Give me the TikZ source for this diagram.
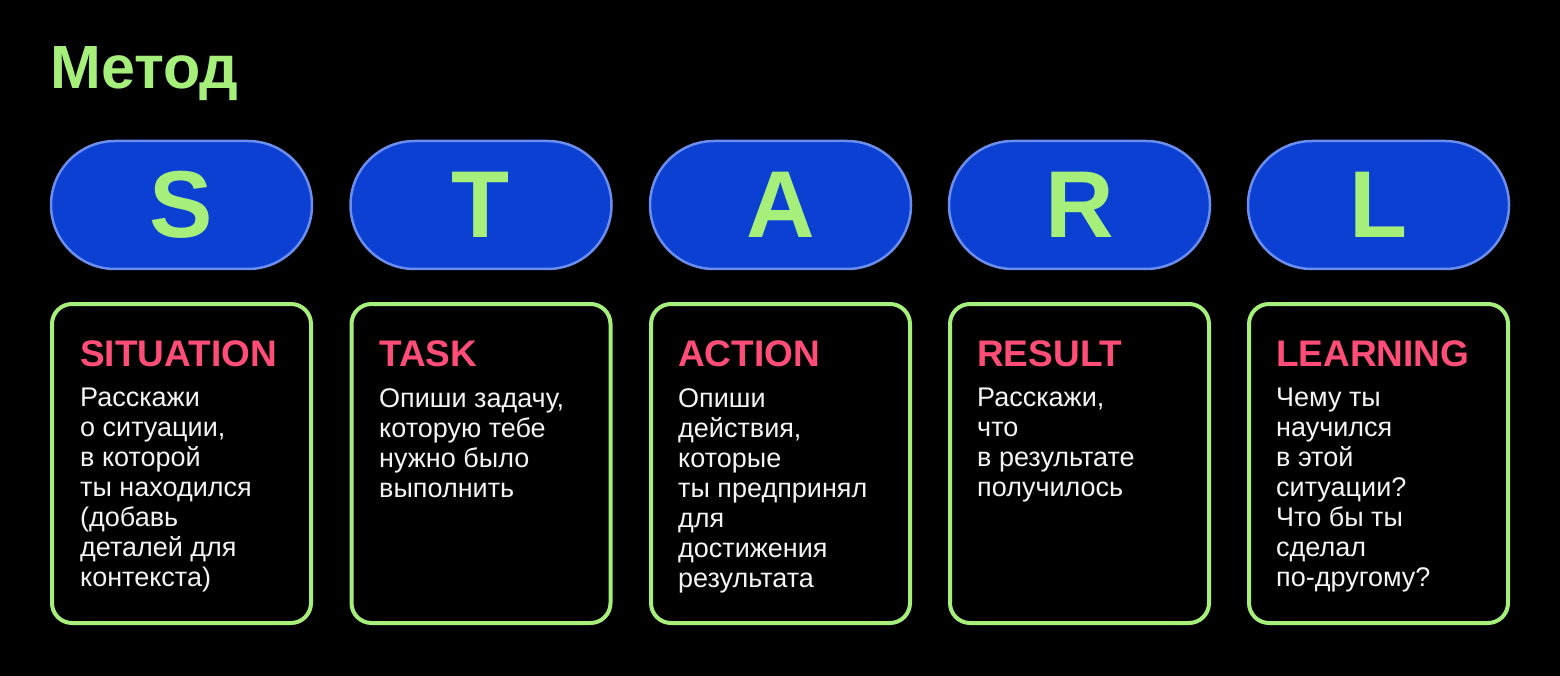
\documentclass[tikz,border=0pt]{standalone}
\usepackage{fontspec}
\setmainfont{Liberation Sans}
\usepackage{xcolor}
\usepackage{tikz}
\usetikzlibrary{positioning}
\usetikzlibrary{shapes.misc}
\definecolor{starGreen}{HTML}{A6EF7B}
\definecolor{starBlue}{HTML}{0B40D2}
\definecolor{starEdge}{HTML}{6B8DEE}
\definecolor{starPink}{HTML}{FF4D78}
\definecolor{starWhite}{HTML}{F4F4F4}

\begin{document}
\begin{tikzpicture}
                [x=1pt, y=-1pt,
                 pill/.style = {rounded rectangle, minimum width=261pt, minimum height=128pt, inner sep=0pt, fill=starBlue, draw=starEdge, line width=2.5pt, text=starGreen, font=\fontsize{95}{95}\selectfont\bfseries},
                 card/.style = {rectangle, rounded corners=20pt, minimum width=259pt, minimum height=319pt, draw=starGreen, line width=4pt},
                 head/.style = {anchor=base west, inner sep=0pt, text=starPink, font=\fontsize{37}{37}\selectfont\bfseries},
                 body/.style = {anchor=north west, inner sep=0pt, align=left, text=starWhite, font=\fontsize{27}{30}\selectfont}]
                % Background
                \fill[black] (0,0) rectangle (1560,676);
                \useasboundingbox (0,0) rectangle (1560,676);
                % Title
                \node[anchor=base west, inner sep=0pt, text=starGreen, font=\fontsize{61}{61}\selectfont\bfseries] (title) at (50,89) {Метод};
                % Letters
                \node[pill] (S) at (181.5,205) {S};
                \node[pill] (T) at (481,205) {T};
                \node[pill] (A) at (780.5,205) {A};
                \node[pill] (R) at (1079.5,205) {R};
                \node[pill] (L) at (1378.5,205) {L};
                % Cards below the letters
                \node[card] (cS) at (181.5,463.5) {};
                \node[card] (cT) at (481,463.5) {};
                \node[card] (cA) at (780.5,463.5) {};
                \node[card] (cR) at (1079.5,463.5) {};
                \node[card] (cL) at (1378.5,463.5) {};
                % Headings
                \node[head] (hS) at (80,366) {SITUATION};
                \node[head] (hT) at (379,366) {TASK};
                \node[head] (hA) at (678,366) {ACTION};
                \node[head] (hR) at (977,366) {RESULT};
                \node[head] (hL) at (1276,366) {LEARNING};
                % Texts
                \node[body] (tS) at (80,388) {Расскажи\\о ситуации,\\в которой\\ты находился\\(добавь\\деталей для\\контекста)};
                \node[body] (tT) at (379,388) {Опиши задачу,\\которую тебе\\нужно было\\выполнить};
                \node[body] (tA) at (678,388) {Опиши\\действия,\\которые\\ты предпринял\\для\\достижения\\результата};
                \node[body] (tR) at (977,388) {Расскажи,\\что\\в результате\\получилось};
                \node[body] (tL) at (1276,388) {Чему ты\\научился\\в этой\\ситуации?\\Что бы ты\\сделал\\по-другому?};
            \end{tikzpicture}
\end{document}
